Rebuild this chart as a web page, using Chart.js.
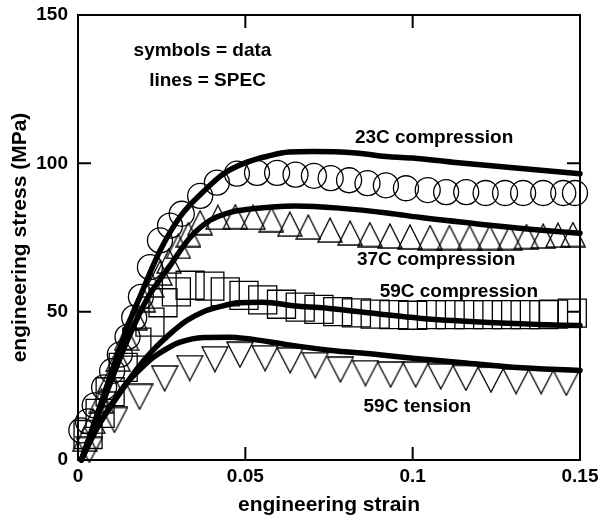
<!DOCTYPE html>
<html>
<head>
<meta charset="utf-8">
<script src="https://cdn.jsdelivr.net/npm/chart.js@4.4.1/dist/chart.umd.min.js"></script>
<style>
  html, body { margin: 0; padding: 0; background: #fff; }
  #wrap { width: 601px; height: 518px; }
</style>
</head>
<body>
<div id="wrap"><canvas id="c" width="601" height="518"></canvas></div>
<script>
// ---------- data ----------
const xTicks = [0, 0.05, 0.1, 0.15];
const xTickLabels = ['0', '0.05', '0.1', '0.15'];
const yTicks = [0, 50, 100, 150];
const yTickLabels = ['0', '50', '100', '150'];

// symbols = data
const c23Strain = [0.001, 0.003, 0.005, 0.0078, 0.0102, 0.0125, 0.0148, 0.0168, 0.0188, 0.0215, 0.0245, 0.0275, 0.031, 0.0365, 0.0415, 0.0475, 0.0535, 0.0595, 0.065, 0.0705, 0.0755, 0.081, 0.0865, 0.092, 0.098, 0.1045, 0.110, 0.116, 0.1218, 0.1276, 0.133, 0.139, 0.145, 0.1485];
const c23Stress = [10, 13, 18.4, 24.5, 30, 35.5, 41.5, 48, 55, 65, 74, 79, 83, 89, 93.5, 96.5, 96.8, 96.8, 96.2, 95.8, 95, 94.3, 93.3, 92.6, 91.6, 91, 90.3, 90.3, 90, 90, 90, 90, 90, 90];

const c37Strain = [0.002, 0.0045, 0.007, 0.0095, 0.012, 0.0145, 0.017, 0.0195, 0.022, 0.0245, 0.0272, 0.030, 0.033, 0.0365, 0.0418, 0.047, 0.0523, 0.0578, 0.0633, 0.0688, 0.0753, 0.0813, 0.0872, 0.0932, 0.0992, 0.1052, 0.111, 0.117, 0.123, 0.129, 0.134, 0.139, 0.1434, 0.1479];
const c37Stress = [7, 13, 20, 27, 34, 41, 48, 54, 59, 63, 67, 72, 76, 80, 81.8, 82, 81.8, 81, 79.5, 78.5, 77.5, 76.5, 76, 75.5, 75.2, 75, 75, 75, 75, 75, 75.3, 75.5, 75.8, 76];

const c59cStrain = [0.003, 0.0066, 0.0096, 0.0135, 0.0176, 0.0215, 0.0254, 0.0294, 0.0335, 0.0394, 0.044, 0.0496, 0.0552, 0.0608, 0.0664, 0.072, 0.0776, 0.0832, 0.0888, 0.0944, 0.1, 0.1056, 0.1112, 0.1168, 0.1224, 0.128, 0.1336, 0.1392, 0.1421, 0.1477];
const c59cStress = [8.6, 15.7, 23, 31.2, 39.7, 46.5, 53, 56.7, 58.9, 58.6, 56.7, 55.5, 54, 52.5, 51.5, 50.8, 50, 49.6, 49.2, 49, 48.8, 49, 49, 49, 49, 49, 49, 49, 49.2, 49.5];

const t59Strain = [0.0034, 0.0109, 0.0184, 0.0259, 0.0334, 0.0409, 0.0484, 0.0559, 0.0634, 0.0709, 0.0784, 0.0859, 0.0934, 0.1009, 0.1084, 0.1159, 0.1234, 0.1309, 0.1384, 0.1459];
const t59Stress = [3.4, 13.5, 21.3, 27.5, 31, 34, 35.5, 34.3, 33.6, 32, 30.5, 29.3, 28.8, 28.8, 28.2, 27.7, 27.1, 26.6, 26.6, 26];

// lines = SPEC
const s23Strain = [0.001, 0.005, 0.01, 0.0145, 0.0185, 0.0245, 0.0305, 0.0375, 0.0435, 0.0505, 0.057, 0.063, 0.07, 0.083, 0.093, 0.1, 0.112, 0.13, 0.15];
const s23Stress = [0, 13, 29.5, 44, 55, 70.5, 82, 90.5, 96.5, 100.4, 102.5, 103.8, 104, 103.5, 102.2, 101.8, 100.4, 98.5, 96.5];

const s37Strain = [0.001, 0.005, 0.01, 0.015, 0.0205, 0.0275, 0.0335, 0.0395, 0.0455, 0.0515, 0.058, 0.065, 0.078, 0.093, 0.102, 0.12, 0.135, 0.15];
const s37Stress = [0, 12, 27, 41, 54, 65.5, 75, 80.8, 83.5, 84.6, 85.3, 85.6, 84.9, 83.2, 81.8, 79.5, 77.8, 76.4];

const s59cStrain = [0.001, 0.004, 0.008, 0.0125, 0.0175, 0.0224, 0.0275, 0.0325, 0.0375, 0.0424, 0.048, 0.055, 0.066, 0.075, 0.09, 0.102, 0.12, 0.135, 0.15];
const s59cStress = [0, 8, 15, 22.5, 30.5, 37, 42.5, 47, 50, 51.7, 53, 53.2, 51.8, 51.1, 49.2, 47.8, 46.5, 45.8, 45.3];

const s59tStrain = [0.001, 0.004, 0.0075, 0.011, 0.0146, 0.0185, 0.0224, 0.0265, 0.0305, 0.0375, 0.045, 0.05, 0.063, 0.075, 0.09, 0.1, 0.115, 0.13, 0.15];
const s59tStress = [0, 7, 14.3, 20.5, 26, 30.5, 34.5, 37.5, 39.7, 41.3, 41.4, 41, 38.8, 37, 35.5, 34.3, 32.8, 31.3, 30.2];

// text annotations (data coordinates)
const notes = [
  { text: 'symbols = data', x: 0.0372, y: 137.9 },
  { text: 'lines = SPEC', x: 0.0387, y: 128 },
  { text: '23C compression', x: 0.1064, y: 108.5 },
  { text: '37C compression', x: 0.107, y: 67.5 },
  { text: '59C compression', x: 0.1138, y: 56.7 },
  { text: '59C tension', x: 0.1014, y: 17.9 }
];

// ---------- helpers ----------
const zip = (xs, ys) => xs.map((x, i) => ({ x: x, y: ys[i] }));

function makeTriangle(w, h, down) {
  const c = document.createElement('canvas');
  c.width = w + 2; c.height = h + 2;
  const g = c.getContext('2d');
  g.strokeStyle = '#000';
  g.lineWidth = 1.3;
  g.beginPath();
  if (down) { g.moveTo(1, 1); g.lineTo(w + 1, 1); g.lineTo(w / 2 + 1, h + 1); }
  else { g.moveTo(w / 2 + 1, 1); g.lineTo(w + 1, h + 1); g.lineTo(1, h + 1); }
  g.closePath();
  g.stroke();
  return c;
}
const triUp = makeTriangle(24, 24, false);
const triDown = makeTriangle(26, 25, true);

const FONT = "'Liberation Sans', Arial, Helvetica, sans-serif";
Chart.defaults.font.family = FONT;
Chart.defaults.color = '#000';

function markerSet(data, style, radius) {
  return {
    data: data, showLine: false, pointStyle: style, pointRadius: radius,
    pointBorderWidth: 1.3, pointBorderColor: '#000', pointBackgroundColor: 'rgba(0,0,0,0)',
    borderColor: '#000', clip: false, order: 2
  };
}
function lineSet(data) {
  return {
    data: data, showLine: true, pointRadius: 0, borderWidth: 5.5,
    borderColor: '#000', backgroundColor: '#000', cubicInterpolationMode: 'monotone',
    borderCapStyle: 'round', borderJoinStyle: 'round', clip: false, order: 1
  };
}

const framePlugin = {
  id: 'frame',
  afterDraw(chart) {
    const { ctx, chartArea: a, scales: { x, y } } = chart;
    ctx.save();
    ctx.strokeStyle = '#000';
    ctx.lineWidth = 2;
    ctx.strokeRect(a.left, a.top, a.right - a.left, a.bottom - a.top);
    const L = 13;
    ctx.beginPath();
    xTicks.slice(1, -1).forEach(v => {
      const px = x.getPixelForValue(v);
      ctx.moveTo(px, a.bottom); ctx.lineTo(px, a.bottom - L);
      ctx.moveTo(px, a.top); ctx.lineTo(px, a.top + L);
    });
    yTicks.slice(1, -1).forEach(v => {
      const py = y.getPixelForValue(v);
      ctx.moveTo(a.left, py); ctx.lineTo(a.left + L, py);
      ctx.moveTo(a.right, py); ctx.lineTo(a.right - L, py);
    });
    ctx.stroke();
    ctx.fillStyle = '#000';
    ctx.font = 'bold 19px ' + FONT;
    ctx.textAlign = 'center';
    ctx.textBaseline = 'middle';
    notes.forEach(n => ctx.fillText(n.text, x.getPixelForValue(n.x), y.getPixelForValue(n.y)));
    ctx.restore();
  }
};

new Chart(document.getElementById('c'), {
  type: 'scatter',
  data: {
    datasets: [
      markerSet(zip(c23Strain, c23Stress), 'circle', 12.5),
      markerSet(zip(c37Strain, c37Stress), triUp, 12),
      markerSet(zip(c59cStrain, c59cStress), 'rect', 19.8),
      markerSet(zip(t59Strain, t59Stress), triDown, 13),
      lineSet(zip(s23Strain, s23Stress)),
      lineSet(zip(s37Strain, s37Stress)),
      lineSet(zip(s59cStrain, s59cStress)),
      lineSet(zip(s59tStrain, s59tStress))
    ]
  },
  options: {
    responsive: false,
    animation: false,
    events: [],
    layout: { autoPadding: false, padding: { left: 0, right: 21, top: 15, bottom: 0 } },
    plugins: { legend: { display: false }, tooltip: { enabled: false } },
    scales: {
      x: {
        type: 'linear', min: 0, max: 0.15,
        afterBuildTicks(s) { s.ticks = xTicks.map(v => ({ value: v })); },
        afterFit(s) { s.height = 58; s.paddingLeft = 0; s.paddingRight = 0; },
        grid: { display: false, drawTicks: false },
        border: { display: false },
        ticks: {
          padding: 5, maxRotation: 0, autoSkip: false,
          font: { size: 19, weight: 'bold' }, color: '#000',
          callback: (v, i) => xTickLabels[i]
        },
        title: {
          display: true, text: 'engineering strain',
          font: { size: 21, weight: 'bold' }, color: '#000',
          padding: { top: 1, bottom: 0 }
        }
      },
      y: {
        type: 'linear', min: 0, max: 150,
        afterBuildTicks(s) { s.ticks = yTicks.map(v => ({ value: v })); },
        afterFit(s) { s.width = 78; s.paddingTop = 0; s.paddingBottom = 0; },
        grid: { display: false, drawTicks: false },
        border: { display: false },
        ticks: {
          padding: 10, autoSkip: false,
          font: { size: 19, weight: 'bold' }, color: '#000',
          callback: (v, i) => yTickLabels[i]
        },
        title: {
          display: true, text: 'engineering stress (MPa)',
          font: { size: 21, weight: 'bold' }, color: '#000',
          padding: { top: 8, bottom: 0 }
        }
      }
    }
  },
  plugins: [framePlugin]
});
</script>
</body>
</html>
